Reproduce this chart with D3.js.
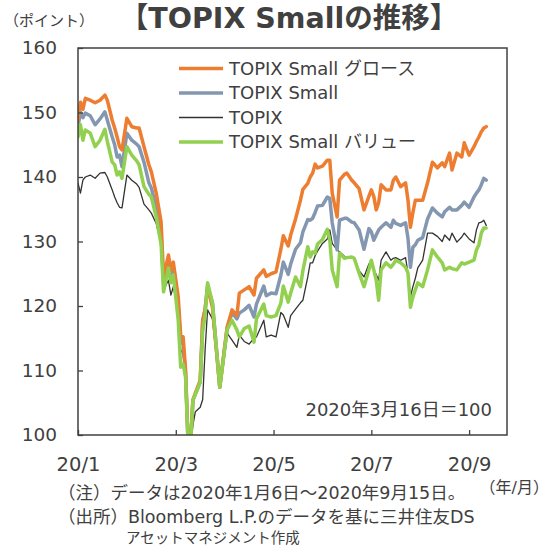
<!DOCTYPE html>
<html>
<head>
<meta charset="utf-8">
<script src="https://cdn.jsdelivr.net/npm/d3@7"></script>
<style>
body { margin: 0; background: #fff; }
svg text { font-family: "DejaVu Sans", "Noto Sans CJK JP", sans-serif; fill: #404040; }
</style>
</head>
<body>
<div id="chart"></div>
<script>
// trading-day index counted from 2020/1/6
var day = [0,1,2,3,5,7,9,11,12,14,15,16,17,18,20,22,24,25,27,29,30,32,34,35,37,38,39,41,42,43,44,45,46,47,48,50,51,52,53,55,58,61,63,65,66,68,70,72,73,76,77,79,81,83,84,86,87,89,91,92,94,95,96,97,98,100,102,103,104,106,107,109,110,112,113,115,117,119,120,121,122,123,124,126,128,129,130,132,134,135,136,137,138,139,141,143,145,147,149,150,152,153,155,157,158,160,162,163,164,165,166,167]

var growth = [148.8,151.6,150.5,152.2,151.9,151.5,151.9,152.7,151.9,148.8,147.6,146.2,144.7,144.2,149.1,147.8,147.6,147.6,144.7,141.9,140.8,137.5,133.0,124.5,127.9,125.6,126.8,121.4,115.5,115.2,110.1,99.5,98.5,105.4,106.5,108.5,117.8,119.5,122.9,119.8,107.4,116.7,119.4,118.5,122.0,122.5,123.0,121.7,124.3,125.6,124.6,125.0,125.3,128.8,130.9,129.3,131.0,133.5,136.4,138.1,139.0,140.0,140.6,142.0,141.4,141.7,142.6,142.6,137.5,133.8,139.5,140.4,140.6,139.5,139.1,138.2,134.9,137.0,138.0,137.0,134.9,136.0,138.8,138.0,138.0,139.5,140.0,138.5,139.1,136.4,132.2,134.5,136.4,136.4,136.4,139.1,142.3,141.4,142.2,141.6,143.7,141.1,143.7,143.1,145.3,143.4,144.7,145.5,146.2,147.0,147.6,147.8]

var small = [147.8,150.1,149.2,149.9,149.5,148.1,149.0,150.1,148.8,146.2,145.0,143.1,143.4,141.6,146.8,145.7,145.1,144.7,142.3,139.1,138.3,135.3,131.0,123.5,126.8,124.8,125.6,120.0,114.7,114.0,109.6,99.0,98.0,105.4,106.3,108.2,117.5,119.5,123.0,120.5,107.4,116.5,119.0,118.0,118.9,119.4,120.1,118.3,120.3,123.1,121.6,122.0,121.9,124.8,126.8,124.9,126.5,128.8,129.8,131.5,133.4,133.3,133.6,134.5,135.5,135.6,136.9,136.7,132.9,128.7,133.3,133.6,133.6,133.0,132.9,131.8,128.8,132.0,131.5,130.2,131.0,131.8,132.2,132.9,132.2,133.3,132.8,132.5,132.9,130.5,126.0,129.1,129.5,130.2,130.6,133.5,135.2,134.4,133.8,134.6,135.3,134.9,134.9,135.6,136.1,135.3,136.9,137.5,138.0,138.8,139.8,139.5]

var topix = [139.1,137.5,139.5,140.0,140.3,139.8,140.6,140.7,140.0,138.0,136.9,136.0,135.3,135.2,140.3,139.5,138.9,138.4,135.8,134.9,134.4,132.8,129.5,122.5,124.0,121.7,123.0,119.0,113.2,112.5,109.0,99.5,98.5,101.5,103.6,104.3,105.5,113.2,119.4,118.0,107.3,115.8,114.7,113.6,115.5,114.5,114.1,115.0,115.2,117.8,115.2,115.5,115.2,119.0,118.6,116.7,118.5,119.5,120.5,120.9,124.5,126.7,126.7,127.8,128.5,129.7,130.4,131.8,129.7,128.7,128.4,127.7,127.5,127.6,127.4,125.5,124.5,126.5,127.1,125.5,124.9,124.0,127.1,128.4,127.1,127.4,127.5,127.1,127.5,125.1,121.4,123.0,124.3,125.9,127.1,131.3,131.3,130.8,130.0,131.0,130.2,131.3,129.9,130.7,131.3,130.4,129.8,131.8,132.9,133.0,133.3,132.5]

var value = [146.2,148.1,145.7,147.3,146.8,144.7,145.7,147.4,145.5,142.3,141.9,140.3,140.8,139.8,144.7,143.4,142.5,141.9,138.5,137.3,136.9,133.8,129.5,122.2,125.9,123.6,124.8,117.8,110.5,111.0,109.0,99.0,98.0,105.4,106.3,108.2,116.0,118.5,123.6,120.5,107.4,116.3,117.8,116.3,115.2,116.5,116.9,114.4,118.0,120.3,118.5,118.3,118.5,120.5,123.1,120.6,122.0,124.5,123.0,125.5,129.2,127.6,128.4,128.2,129.6,130.3,131.9,130.2,125.6,123.0,128.2,127.4,127.5,127.6,127.4,125.1,123.0,125.6,127.1,125.6,124.0,120.9,125.6,126.7,126.0,126.5,127.1,126.7,126.0,125.1,119.8,121.4,122.5,123.6,123.0,125.6,128.7,127.6,126.7,125.6,126.0,125.8,125.6,126.7,126.5,126.8,127.1,128.7,129.5,131.3,132.1,132.1]

var seriesNames = ["TOPIX Small グロース", "TOPIX Small", "TOPIX", "TOPIX Small バリュー"]
var seriesColors = ["#ED7D31", "#8497B0", "#333333", "#92D050"]
var seriesWidths = [3.5, 3.5, 1.3, 3.5]
var xTicks = [0, 40, 80, 120, 160]
var xLabels = ["20/1", "20/3", "20/5", "20/7", "20/9"]
var yTicks = [100, 110, 120, 130, 140, 150, 160]

var W = 550, H = 548
var plotL = 78, plotR = 507, plotT = 48, plotB = 435

var svg = d3.select("#chart").append("svg")
    .attr("width", W)
    .attr("height", H)

var x = d3.scaleLinear().domain([0, 175.5]).range([plotL, plotR])
var y = d3.scaleLinear().domain([100, 160]).range([plotB, plotT])

svg.append("defs").append("clipPath").attr("id", "plot")
  .append("rect")
    .attr("x", plotL).attr("y", plotT)
    .attr("width", plotR - plotL).attr("height", plotB - plotT)

var all = [growth, small, topix, value]
var line = d3.line()
    .x(function(d, i) { return x(day[i]) })
    .y(function(d) { return y(d) })

// draw order: black, blue, orange, green on top
var order = [2, 1, 0, 3]
svg.append("g").attr("clip-path", "url(#plot)")
  .selectAll("path")
  .data(order)
  .enter()
  .append("path")
    .attr("d", function(k) { return line(all[k]) })
    .attr("fill", "none")
    .attr("stroke", function(k) { return seriesColors[k] })
    .attr("stroke-width", function(k) { return seriesWidths[k] })
    .attr("stroke-linejoin", "round")
    .attr("stroke-linecap", "round")

// axes
var xAxis = svg.append("g")
    .attr("transform", "translate(0," + plotB + ")")
    .call(d3.axisBottom(x).tickValues(xTicks).tickSize(-5).tickPadding(22)
      .tickFormat(function(d, i) { return xLabels[i] }))
xAxis.selectAll("text").style("font-size", "19.5px")
var yAxis = svg.append("g")
    .attr("transform", "translate(" + plotL + ",0)")
    .call(d3.axisLeft(y).tickValues(yTicks).tickSize(-5).tickPadding(21))
yAxis.selectAll("text").style("font-size", "18.5px")

svg.selectAll(".domain").remove()
svg.selectAll(".tick line").attr("stroke", "#404040").attr("stroke-width", 1.3)
svg.selectAll(".tick text").attr("fill", "#404040")

svg.append("rect")
    .attr("x", plotL).attr("y", plotT)
    .attr("width", plotR - plotL).attr("height", plotB - plotT)
    .attr("fill", "none")
    .attr("stroke", "#404040")
    .attr("stroke-width", 1.5)

// legend
var legend = svg.append("g")
  .selectAll("g")
  .data(seriesNames)
  .enter()
  .append("g")
    .attr("transform", function(d, i) { return "translate(179," + (68.5 + i * 24.5) + ")" })
legend.append("line")
    .attr("x1", 0).attr("x2", 44)
    .attr("stroke", function(d, i) { return seriesColors[i] })
    .attr("stroke-width", function(d, i) { return seriesWidths[i] })
legend.append("text")
    .attr("x", 50).attr("dy", "0.36em")
    .style("font-size", "18px")
    .text(function(d) { return d })

// texts
svg.append("text").attr("x", 289).attr("y", 28)
    .attr("text-anchor", "middle")
    .style("font-size", "28.5px").style("font-weight", "bold")
    .text("【TOPIX Smallの推移】")
svg.append("text").attr("x", 4).attr("y", 26)
    .style("font-size", "15px")
    .text("（ポイント）")
svg.append("text").attr("x", 492).attr("y", 416)
    .attr("text-anchor", "end")
    .style("font-size", "18px")
    .text("2020年3月16日＝100")
svg.append("text").attr("x", 549).attr("y", 493)
    .attr("text-anchor", "end")
    .style("font-size", "16px")
    .text("（年/月）")
svg.append("text").attr("x", 58).attr("y", 499)
    .style("font-size", "17.5px")
    .text("（注）データは2020年1月6日～2020年9月15日。")
svg.append("text").attr("x", 58).attr("y", 523)
    .style("font-size", "17.5px")
    .text("（出所）Bloomberg L.P.のデータを基に三井住友DS")
svg.append("text").attr("x", 126).attr("y", 543)
    .style("font-size", "14.5px")
    .text("アセットマネジメント作成")
</script>
</body>
</html>
